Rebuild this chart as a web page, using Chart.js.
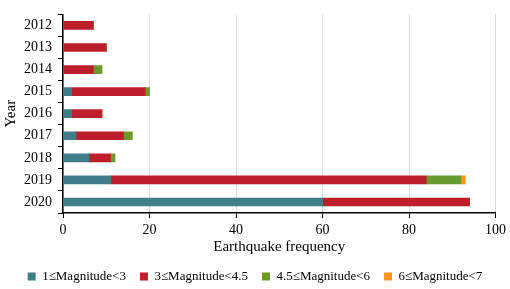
<!DOCTYPE html>
<html>
<head>
<meta charset="utf-8">
<script src="https://cdn.jsdelivr.net/npm/chart.js@4.4.0/dist/chart.umd.min.js"></script>
<style>
  html, body { margin: 0; padding: 0; background: #fff; }
  #wrap { width: 510px; height: 289px; }
</style>
</head>
<body>
<div id="wrap"><canvas id="quakeChart"></canvas></div>
<script>
const years = ["2012", "2013", "2014", "2015", "2016", "2017", "2018", "2019", "2020"];
const mag1to3 = [0, 0, 0, 2, 2, 3, 6, 11, 60];
const mag3to45 = [7, 10, 7, 17, 7, 11, 5, 73, 34];
const mag45to6 = [0, 0, 2, 1, 0, 2, 1, 8, 0];
const mag6to7 = [0, 0, 0, 0, 0, 0, 0, 1, 0];
const xTicks = [0, 20, 40, 60, 80, 100];

const serif = "'Liberation Serif', 'Times New Roman', serif";

document.addEventListener("DOMContentLoaded", function () {
  const ctx = document.getElementById("quakeChart");
  new Chart(ctx, {
    type: "bar",
    data: {
      labels: years,
      datasets: [
        { label: "1≤Magnitude<3", data: mag1to3, backgroundColor: "#3F7E89" },
        { label: "3≤Magnitude<4.5", data: mag3to45, backgroundColor: "#BD1E2B" },
        { label: "4.5≤Magnitude<6", data: mag45to6, backgroundColor: "#6A9A2C" },
        { label: "6≤Magnitude<7", data: mag6to7, backgroundColor: "#F7941D" },
      ],
    },
    options: {
      indexAxis: "y",
      responsive: true,
      maintainAspectRatio: false,
      animation: false,
      barThickness: 8,
      // legend box runs a little past the bottom edge so the labels sit low
      layout: { padding: { top: 3, right: 0, left: 0, bottom: -4 } },
      scales: {
        x: {
          stacked: true,
          min: 0,
          max: 100,
          afterBuildTicks: function (scale) {
            scale.ticks = xTicks.map(v => ({ value: v }));
          },
          afterFit: function (scale) { scale.height = 43; },
          grid: {
            color: "#d9d9d9",
            lineWidth: 1,
            tickColor: "#000",
            tickLength: 5,
          },
          border: { color: "#000", width: 1.5 },
          ticks: { color: "#000", font: { family: serif, size: 14 }, padding: 4 },
          title: {
            display: true,
            text: "Earthquake frequency",
            color: "#000",
            font: { family: serif, size: 15 },
            padding: { top: 0, bottom: 0 },
          },
        },
        y: {
          stacked: true,
          afterFit: function (scale) { scale.width = 63; },
          grid: {
            offset: true,
            drawOnChartArea: false,
            color: "#000",
            tickLength: 5,
          },
          border: { color: "#000", width: 1.5 },
          ticks: { color: "#000", autoSkip: false, font: { family: serif, size: 14 }, padding: 6 },
          title: {
            display: true,
            text: "Year",
            color: "#000",
            font: { family: serif, size: 15 },
            padding: { top: 2, bottom: 0 },
          },
        },
      },
      plugins: {
        legend: {
          position: "bottom",
          labels: {
            color: "#000",
            boxWidth: 8,
            boxHeight: 8,
            padding: 14,
            font: { family: serif, size: 13 },
          },
        },
        tooltip: { enabled: false },
      },
    },
  });
});
</script>
</body>
</html>
